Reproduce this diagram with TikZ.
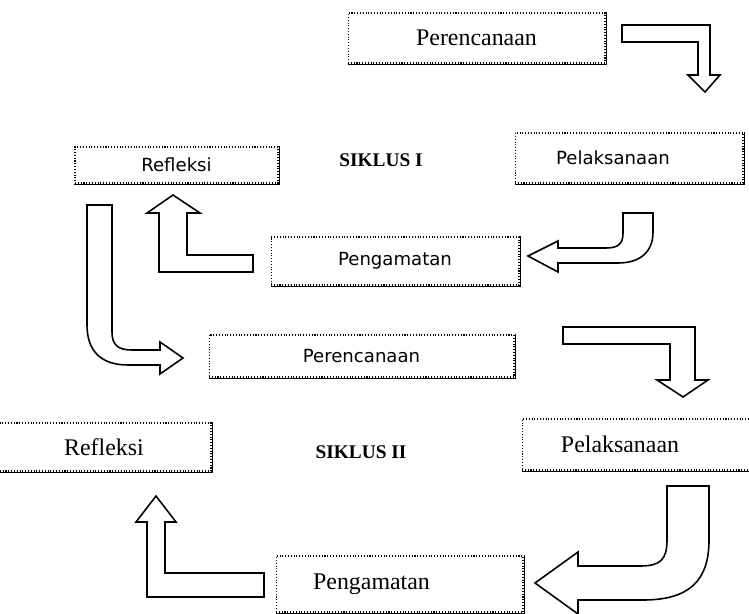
\documentclass[tikz,border=0pt]{standalone}
\usepackage{fontspec}
\setmainfont{Liberation Serif}
\newfontfamily\boxsans{DejaVu Sans}
\usepackage{tikz}
\usetikzlibrary{calc,positioning}
\tikzstyle{box}=[draw,densely dotted,line width=0.6pt,fill=white,inner sep=0pt]
\tikzstyle{serifbox}=[box,font=\fontsize{13.6}{16}\selectfont]
\tikzstyle{sansbox}=[box,font=\boxsans\fontsize{10.3}{12}\selectfont]
\tikzstyle{blockarrow}=[draw,line width=0.9pt,fill=white,line join=miter]
\tikzstyle{cycletitle}=[font=\bfseries\fontsize{11}{13}\selectfont]

\begin{document}
\begin{tikzpicture}[x=0.02cm,y=-0.02cm]
\useasboundingbox (0, 0) rectangle (749, 614);
% siklus I
\draw (476.5, 38) node [serifbox, minimum width=5.14cm, minimum height=1cm] (pr1) {Perencanaan};
\draw (629, 158) node [sansbox, minimum width=4.56cm, minimum height=1cm] (pl1) {\hspace*{-0.64cm}Pelaksanaan};
\draw (395, 261) node [sansbox, minimum width=4.96cm, minimum height=0.96cm] (pg1) {Pengamatan};
\draw (176.5, 165) node [sansbox, minimum width=4.06cm, minimum height=0.72cm] (rf1) {Refleksi};
\draw (381, 160) node [cycletitle] (s1) {SIKLUS I};
% siklus II
\draw (361.5, 356) node [sansbox, minimum width=6.1cm, minimum height=0.84cm] (pr2) {Perencanaan};
\draw (637, 444.5) node [serifbox, minimum width=4.6cm, minimum height=1.02cm] (pl2) {\hspace*{-0.68cm}Pelaksanaan};
\draw (399.5, 584) node [serifbox, minimum width=4.94cm, minimum height=1.12cm] (pg2) {\hspace*{-1.12cm}Pengamatan};
\draw (104, 447) node [serifbox, minimum width=4.28cm, minimum height=0.96cm] (rf2) {Refleksi};
\draw (361, 452) node [cycletitle] (s2) {SIKLUS II};
\foreach \b in {pr1,pl1,pg1,rf1,pr2,pl2,pg2,rf2}
  \draw[line width=0.7pt] ([xshift=0.6pt]\b.north east) -- ([xshift=0.6pt,yshift=-0.6pt]\b.south east) -- ([yshift=-0.6pt]\b.south west);
% block arrows
\draw[blockarrow] (622,25) -- (710,25) -- (710,75) -- (720,75) -- (705,92) -- (688,75) -- (698,75) -- (698,42) -- (622,42) -- cycle;
\draw[blockarrow] (623,213) -- (623,233) .. controls (623,244) and (618,248) .. (606,248) -- (558,248) -- (558,241) -- (528,256) -- (558,272) -- (558,263) -- (618,263) .. controls (640,263) and (653,252) .. (653,232) -- (653,213) -- cycle;
\draw[blockarrow] (173,195) -- (200,213) -- (187,213) -- (187,255) -- (253,255) -- (253,272) -- (159,272) -- (159,213) -- (147,213) -- cycle;
\draw[blockarrow] (87,205) -- (112,205) -- (112,332) .. controls (112,345) and (118,350) .. (132,350) -- (160,350) -- (160,342) -- (183,358) -- (160,374) -- (160,365) -- (128,365) .. controls (100,365) and (87,350) .. (87,325) -- cycle;
\draw[blockarrow] (563,327) -- (695,327) -- (695,380) -- (708,380) -- (683,397) -- (657,380) -- (670,380) -- (670,344) -- (563,344) -- cycle;
\draw[blockarrow] (667,486) -- (667,540) .. controls (667,560) and (660,566) .. (640,566) -- (578,566) -- (578,552) -- (535,583) -- (578,614) -- (578,600) -- (643,600) .. controls (690,600) and (709,580) .. (709,540) -- (709,486) -- cycle;
\draw[blockarrow] (156,496) -- (176,522) -- (165,522) -- (165,573) -- (264,573) -- (264,597) -- (147,597) -- (147,522) -- (136,522) -- cycle;
\end{tikzpicture}
\end{document}
